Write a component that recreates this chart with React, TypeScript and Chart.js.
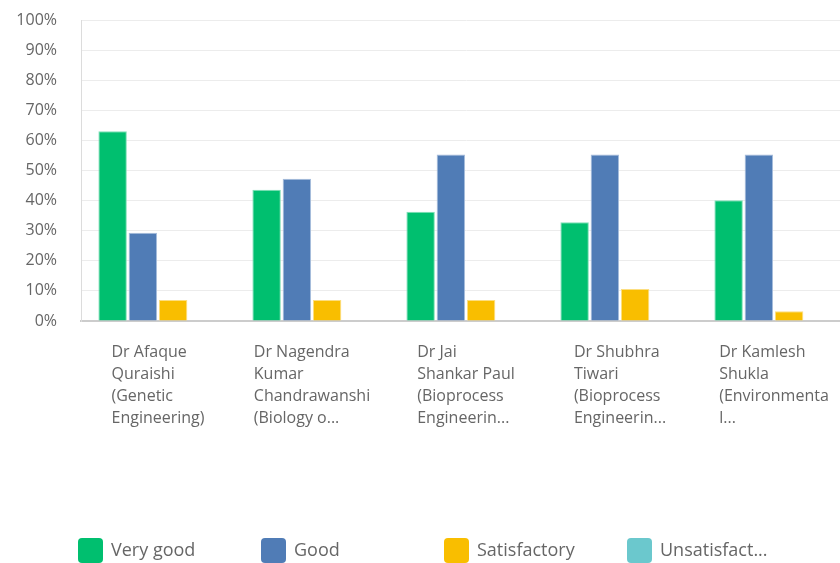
import React, { useEffect, useRef } from "react";
import { Chart, registerables } from "chart.js";

Chart.register(...registerables);

const categoryLines: string[][] = [
  ["Dr Afaque", "Quraishi", "(Genetic", "Engineering)"],
  ["Dr Nagendra", "Kumar", "Chandrawanshi", "(Biology o..."],
  ["Dr Jai", "Shankar Paul", "(Bioprocess", "Engineerin..."],
  ["Dr Shubhra", "Tiwari", "(Bioprocess", "Engineerin..."],
  ["Dr Kamlesh", "Shukla", "(Environmenta", "l..."],
];
const seriesNames = ["Very good", "Good", "Satisfactory", "Unsatisfact..."];
const veryGood = [63, 43.6, 36.3, 32.8, 40.1];
const good = [29.3, 47.3, 55.3, 55.3, 55.3];
const satisfactory = [7, 7, 7, 10.6, 3.2];
const unsatisfactory = [0, 0, 0, 0, 0];
const seriesColors = ["#00BF6F", "#507CB6", "#F9BE00", "#6BC8CD"];
const seriesBorders = ["#7fdfb7", "#a7bddb", "#fcde80", "#b5e3e6"];

const FONT = '"Open Sans", sans-serif';

const xLabelPlugin = {
  id: "xLabelPlugin",
  afterDraw(chart: any) {
    const { ctx, chartArea } = chart;
    const x = chart.scales.x;
    ctx.save();
    ctx.font = `16px ${FONT}`;
    ctx.fillStyle = "#666666";
    ctx.textAlign = "left";
    ctx.textBaseline = "middle";
    categoryLines.forEach((lines, i) => {
      const cx = x.getPixelForValue(i);
      const w = Math.max(...lines.map((l) => ctx.measureText(l).width));
      lines.forEach((l, j) => {
        ctx.fillText(l, cx - w / 2, chartArea.bottom + 31 + j * 22);
      });
    });
    ctx.restore();
  },
};

const legendPlugin = {
  id: "legendPlugin",
  afterDraw(chart: any) {
    const { ctx } = chart;
    ctx.save();
    ctx.font = `18px ${FONT}`;
    ctx.textAlign = "left";
    ctx.textBaseline = "middle";
    seriesNames.forEach((name, i) => {
      const bx = 78 + i * 183;
      const by = 538;
      ctx.fillStyle = seriesColors[i];
      ctx.beginPath();
      (ctx as any).roundRect(bx, by, 25, 25, 4);
      ctx.fill();
      ctx.fillStyle = "#666666";
      ctx.fillText(name, bx + 33, by + 13);
    });
    ctx.restore();
  },
};

export default function App() {
  const ref = useRef<HTMLCanvasElement | null>(null);

  useEffect(() => {
    if (!ref.current) return;
    const series = [veryGood, good, satisfactory, unsatisfactory];
    const chart = new Chart(ref.current, {
      type: "bar",
      data: {
        labels: categoryLines.map((l) => l.join(" ")),
        datasets: series.map((data, i) => ({
          label: seriesNames[i],
          data,
          backgroundColor: seriesColors[i],
          borderColor: seriesBorders[i],
          borderWidth: 1,
          barPercentage: 0.94,
          categoryPercentage: 0.786,
        })),
      },
      options: {
        responsive: false,
        animation: false,
        devicePixelRatio: 1,
        layout: { padding: { top: 20, right: 9, left: 0, bottom: 0 } },
        plugins: {
          legend: { display: false },
          tooltip: { enabled: false },
        },
        scales: {
          x: {
            grid: { display: false },
            border: { display: true, color: "#cccccc", width: 2 },
            ticks: { display: false },
            afterFit(s: any) {
              s.height = 563 - 321;
              s.paddingLeft = 0;
              s.paddingRight = 0;
            },
          },
          y: {
            min: 0,
            max: 100,
            ticks: {
              stepSize: 10,
              padding: 24,
              color: "#666666",
              font: { family: FONT, size: 16 },
              callback: (v: any) => `${v}%`,
            },
            grid: { color: "#ececec", lineWidth: 1, drawTicks: false },
            border: { display: true, color: "#dcdcdc", width: 1 },
            afterFit(s: any) {
              s.width = 81;
              s.paddingTop = 0;
              s.paddingBottom = 0;
            },
          },
        },
      },
      plugins: [xLabelPlugin, legendPlugin],
    });
    return () => chart.destroy();
  }, []);

  return (
    <div
      style={{
        position: "fixed",
        left: 0,
        top: 0,
        width: 840,
        height: 563,
        overflow: "hidden",
        background: "#ffffff",
      }}
    >
      <canvas ref={ref} width={860} height={563} style={{ display: "block" }} />
    </div>
  );
}
